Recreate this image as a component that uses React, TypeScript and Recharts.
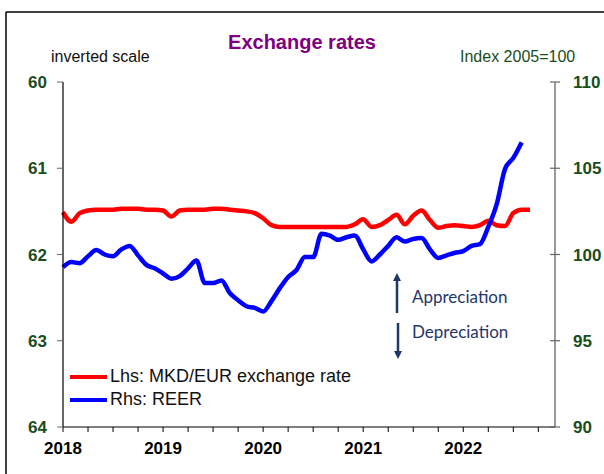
import { LineChart, Line, XAxis, YAxis, Legend } from "recharts"

// monthly values, Jan 2018 onwards
const mkdEur = [
  61.51, 61.62, 61.52, 61.49, 61.48, 61.48, 61.48, 61.47, 61.47, 61.47,
  61.48, 61.48, 61.49, 61.56, 61.49, 61.48, 61.48, 61.48, 61.47, 61.47,
  61.48, 61.49, 61.5, 61.52, 61.58, 61.66, 61.68, 61.68, 61.68, 61.68,
  61.68, 61.68, 61.68, 61.68, 61.68, 61.65, 61.59, 61.68, 61.66, 61.6,
  61.54, 61.65, 61.55, 61.49, 61.6, 61.69, 61.67, 61.66, 61.67, 61.68,
  61.66, 61.61, 61.66, 61.67, 61.52, 61.48, 61.48,
]
const reer = [
  99.27, 99.56, 99.5, 99.9, 100.26, 100.0, 99.9, 100.3, 100.5, 99.95,
  99.4, 99.2, 98.9, 98.6, 98.75, 99.2, 99.65, 98.35, 98.35, 98.5,
  97.77, 97.35, 97.0, 96.9, 96.7, 97.3, 98.05, 98.7, 99.1, 99.86,
  99.85, 101.2, 101.1, 100.85, 101.0, 101.1, 100.3, 99.6, 100.0, 100.5,
  101.0, 100.75, 100.9, 100.95, 100.3, 99.8, 99.95, 100.1, 100.2, 100.5,
  100.6, 101.6, 102.9, 104.95, 105.6, 106.5,
]
const yearLabels = ["2018", "2019", "2020", "2021", "2022"]
const quarterTicks = [0, 3, 6, 9, 12, 15, 18, 21, 24, 27, 30, 33, 36, 39, 42, 45, 48, 51, 54, 57]
const lhsTicks = [60, 61, 62, 63, 64]
const rhsTicks = [90, 95, 100, 105, 110]

const data = mkdEur.map((v, i) => ({ m: i, mkd: v, reer: reer[i] }))

const FONT = "'Liberation Sans', Arial, sans-serif"
const GREEN = "#1b4d1b"
const NAVY = "#1f3868"

const RightTick = (props: any) => {
  const { x, y, payload } = props
  const ax = x - 18
  return (
    <g>
      <line x1={ax - 5} x2={ax + 5} y1={y} y2={y} stroke="#666" strokeWidth={1.2} />
      <text x={x} y={y} dy="0.36em" textAnchor="start" fill={GREEN} fontSize={17} fontWeight="bold" fontFamily={FONT}>
        {payload.value}
      </text>
    </g>
  )
}

const LegendBox = (props: any) => (
  <div style={{ fontFamily: FONT, fontSize: 18, color: "#111" }}>
    {(props.payload || []).map((p: any) => (
      <div key={p.value} style={{ display: "flex", alignItems: "center", height: 23 }}>
        <span style={{ display: "inline-block", width: 37, height: 4, background: p.color, marginRight: 3 }} />
        <span>{p.value}</span>
      </div>
    ))}
  </div>
)

export default function App() {
  return (
    <div style={{ position: "fixed", left: 0, top: 0, width: 604, height: 474, overflow: "hidden", background: "#fff" }}>
      <LineChart width={604} height={474} data={data} margin={{ top: 82, right: 0, bottom: 0, left: 0 }}>
        <XAxis
          dataKey="m"
          type="number"
          domain={[0, 59]}
          ticks={quarterTicks}
          interval={0}
          tickFormatter={(v: number) => (v % 12 === 0 ? yearLabels[v / 12] : "")}
          height={47}
          tickSize={5}
          tickMargin={10}
          axisLine={{ stroke: "#000", strokeWidth: 1.2 }}
          tickLine={{ stroke: "#000" }}
          tick={{ fill: "#000", fontSize: 17, fontWeight: "bold", fontFamily: FONT }}
        />
        <YAxis
          yAxisId="lhs"
          reversed
          domain={[60, 64]}
          ticks={lhsTicks}
          interval={0}
          width={63}
          tickSize={6}
          tickMargin={10}
          axisLine={{ stroke: "#000", strokeWidth: 1.2 }}
          tickLine={{ stroke: "#666" }}
          tick={{ fill: GREEN, fontSize: 17, fontWeight: "bold", fontFamily: FONT }}
        />
        <YAxis
          yAxisId="rhs"
          orientation="right"
          domain={[90, 110]}
          ticks={rhsTicks}
          interval={0}
          width={49}
          tickSize={5}
          tickMargin={13}
          axisLine={{ stroke: "#555", strokeWidth: 1.2 }}
          tickLine={false}
          tick={<RightTick />}
        />
        <Legend
          layout="vertical"
          align="center"
          verticalAlign="middle"
          content={<LegendBox />}
          wrapperStyle={{ left: 70, top: 365, width: 320 }}
        />
        <Line
          yAxisId="lhs"
          dataKey="mkd"
          name="Lhs: MKD/EUR exchange rate"
          type="monotone"
          stroke="#ff0000"
          strokeWidth={4.5}
          dot={false}
          isAnimationActive={false}
        />
        <Line
          yAxisId="rhs"
          dataKey="reer"
          name="Rhs: REER"
          type="monotone"
          stroke="#0000ff"
          strokeWidth={4.5}
          dot={false}
          isAnimationActive={false}
        />
      </LineChart>
      <svg width={604} height={474} style={{ position: "absolute", left: 0, top: 0, pointerEvents: "none" }}>
        <line x1={6} y1={12} x2={604} y2={12} stroke="#000" strokeWidth={1.5} />
        <line x1={6} y1={12} x2={6} y2={474} stroke="#000" strokeWidth={1.5} />
        <text x={302} y={49} textAnchor="middle" fill="#800080" fontSize={20} fontWeight="bold" fontFamily={FONT}>
          Exchange rates
        </text>
        <text x={51} y={62} fill="#111" fontSize={16} fontFamily={FONT}>
          inverted scale
        </text>
        <text x={460} y={62} fill={GREEN} fontSize={16} fontFamily={FONT}>
          Index 2005=100
        </text>
        <defs>
          <marker id="ah" viewBox="0 0 10 10" refX="5" refY="5" markerWidth="3.2" markerHeight="3.6" orient="auto-start-reverse">
            <path d="M0,0 L10,5 L0,10 z" fill={NAVY} />
          </marker>
        </defs>
        <line x1={397} y1={313} x2={397} y2={277} stroke={NAVY} strokeWidth={2.5} markerEnd="url(#ah)" />
        <line x1={398} y1={323} x2={398} y2={355} stroke={NAVY} strokeWidth={2.5} markerEnd="url(#ah)" />
        <text x={412} y={303} fill={NAVY} fontSize={17} fontFamily="Lato, 'Open Sans', sans-serif">
          Appreciation
        </text>
        <text x={412} y={338} fill={NAVY} fontSize={17} fontFamily="Lato, 'Open Sans', sans-serif">
          Depreciation
        </text>
      </svg>
    </div>
  )
}
